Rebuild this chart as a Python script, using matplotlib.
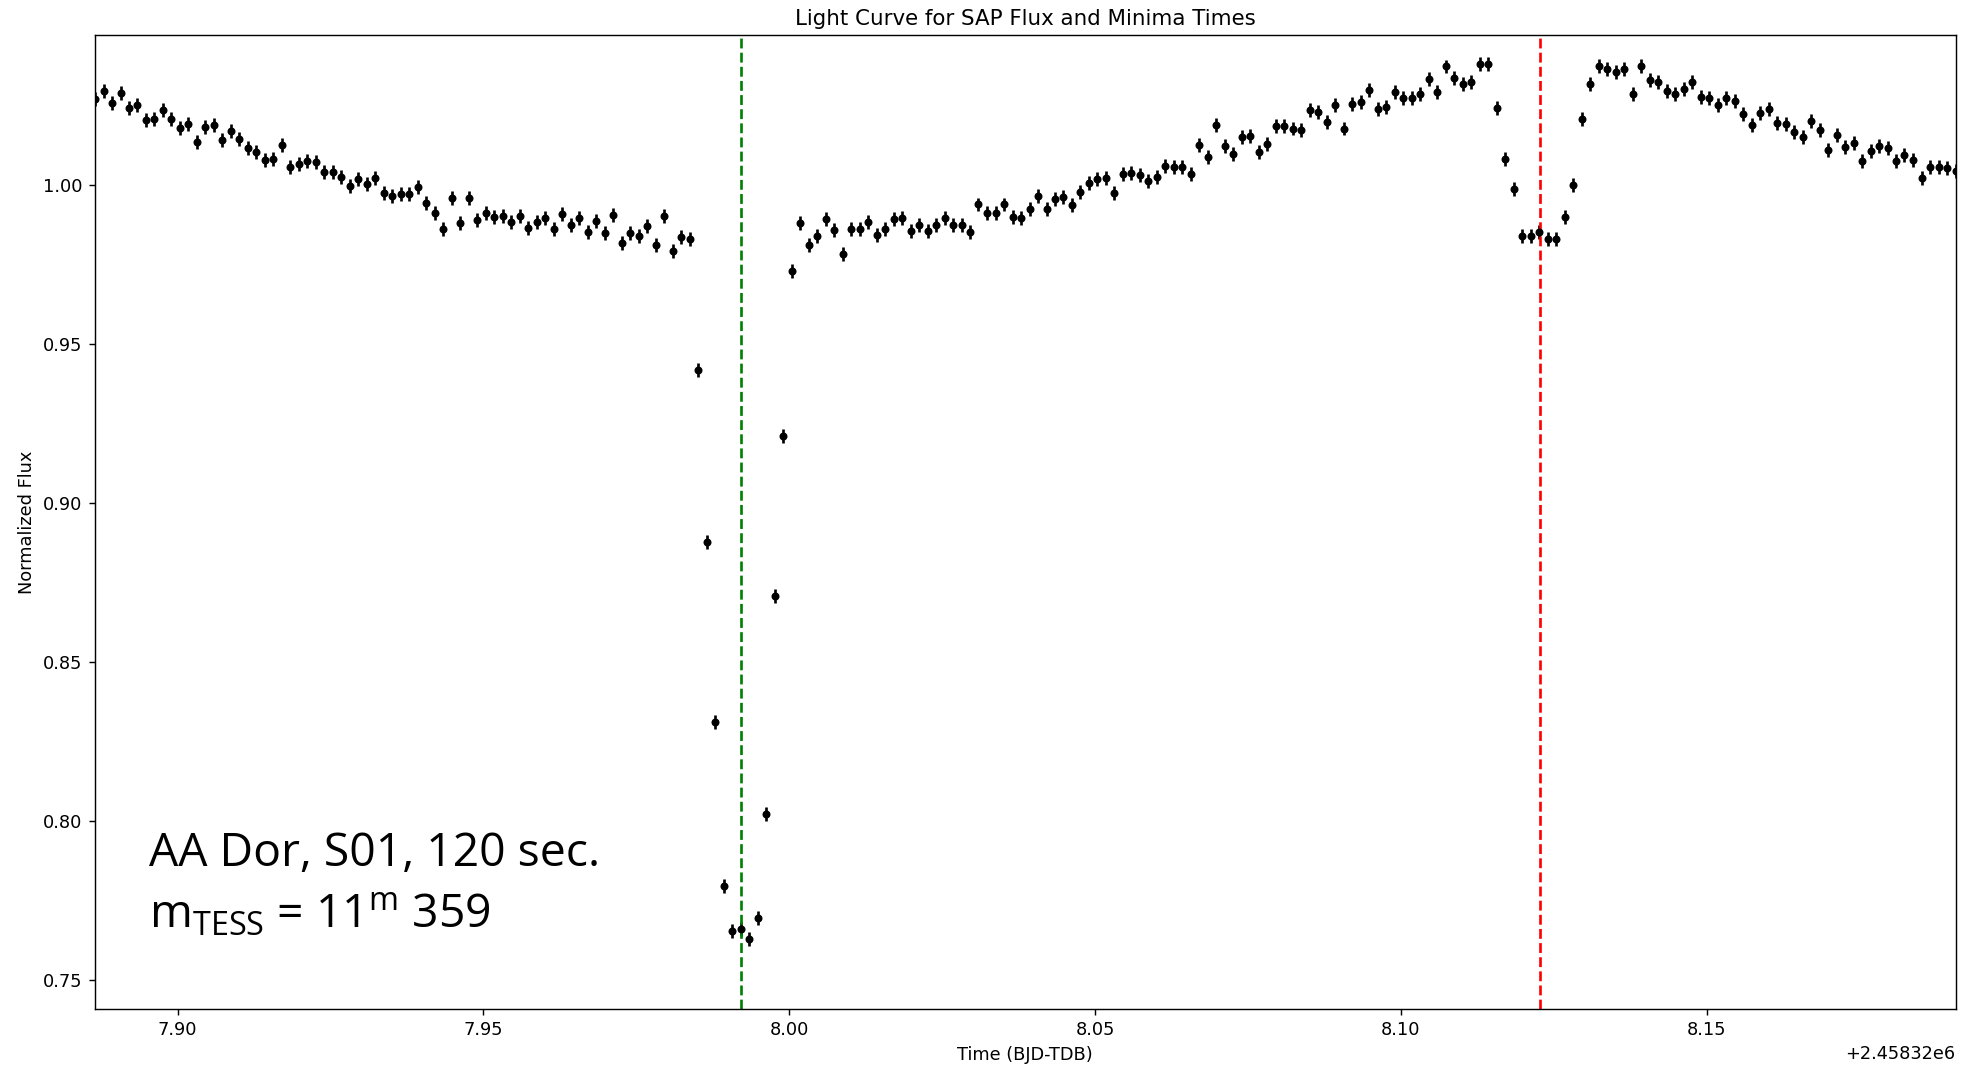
import matplotlib
matplotlib.use("Agg")
import matplotlib.pyplot as plt

# Time stamps (BJD-TDB minus 2458320), 2-minute cadence
BJD_BASE = 2458320.0
time_offset = [
    7.88650, 7.88789, 7.88928, 7.89067, 7.89206, 7.89344, 7.89483, 7.89622, 7.89761, 7.89900,
    7.90039, 7.90178, 7.90317, 7.90456, 7.90594, 7.90733, 7.90872, 7.91011, 7.91150, 7.91289,
    7.91428, 7.91567, 7.91706, 7.91844, 7.91983, 7.92122, 7.92261, 7.92400, 7.92539, 7.92678,
    7.92817, 7.92956, 7.93094, 7.93233, 7.93372, 7.93511,
    7.93650, 7.93789, 7.93928, 7.94067, 7.94206, 7.94344, 7.94483, 7.94622, 7.94761, 7.94900,
    7.95039, 7.95178, 7.95317, 7.95456, 7.95594, 7.95733, 7.95872, 7.96011, 7.96150, 7.96289,
    7.96428, 7.96567, 7.96706, 7.96844, 7.96983, 7.97122, 7.97261, 7.97400, 7.97539, 7.97678,
    7.97817, 7.97956, 7.98094, 7.98233, 7.98372, 7.98511,
    7.98650, 7.98789, 7.98928, 7.99067, 7.99206, 7.99344, 7.99483, 7.99622, 7.99761, 7.99900,
    8.00039, 8.00178, 8.00317, 8.00456, 8.00594, 8.00733, 8.00872, 8.01011, 8.01150, 8.01289,
    8.01428, 8.01567, 8.01706, 8.01844, 8.01983, 8.02122, 8.02261, 8.02400, 8.02539, 8.02678,
    8.02817, 8.02956, 8.03094, 8.03233, 8.03372, 8.03511,
    8.03650, 8.03789, 8.03928, 8.04067, 8.04206, 8.04344, 8.04483, 8.04622, 8.04761, 8.04900,
    8.05039, 8.05178, 8.05317, 8.05456, 8.05594, 8.05733, 8.05872, 8.06011, 8.06150, 8.06289,
    8.06428, 8.06567, 8.06706, 8.06844, 8.06983, 8.07122, 8.07261, 8.07400, 8.07539, 8.07678,
    8.07817, 8.07956, 8.08094, 8.08233, 8.08372, 8.08511,
    8.08650, 8.08789, 8.08928, 8.09067, 8.09206, 8.09344, 8.09483, 8.09622, 8.09761, 8.09900,
    8.10039, 8.10178, 8.10317, 8.10456, 8.10594, 8.10733, 8.10872, 8.11011, 8.11150, 8.11289,
    8.11428, 8.11567, 8.11706, 8.11844, 8.11983, 8.12122, 8.12261, 8.12400, 8.12539, 8.12678,
    8.12817, 8.12956, 8.13094, 8.13233, 8.13372, 8.13511,
    8.13650, 8.13789, 8.13928, 8.14067, 8.14206, 8.14344, 8.14483, 8.14622, 8.14761, 8.14900,
    8.15039, 8.15178, 8.15317, 8.15456, 8.15594, 8.15733, 8.15872, 8.16011, 8.16150, 8.16289,
    8.16428, 8.16567, 8.16706, 8.16844, 8.16983, 8.17122, 8.17261, 8.17400, 8.17539, 8.17678,
    8.17817, 8.17956, 8.18094, 8.18233, 8.18372, 8.18511,
    8.18650, 8.18789, 8.18928, 8.19067,
]

# Normalized SAP flux
flux = [
    1.0269, 1.0295, 1.0256, 1.0290, 1.0243, 1.0250, 1.0204, 1.0206, 1.0234, 1.0206,
    1.0180, 1.0192, 1.0136, 1.0182, 1.0188, 1.0140, 1.0169, 1.0145, 1.0115, 1.0102,
    1.0078, 1.0082, 1.0125, 1.0057, 1.0066, 1.0075, 1.0071, 1.0040, 1.0040, 1.0024,
    0.9996, 1.0019, 1.0001, 1.0022, 0.9975, 0.9964,
    0.9970, 0.9970, 0.9993, 0.9944, 0.9910, 0.9860, 0.9959, 0.9881, 0.9959, 0.9889,
    0.9910, 0.9900, 0.9902, 0.9883, 0.9902, 0.9863, 0.9883, 0.9896, 0.9862, 0.9907,
    0.9872, 0.9894, 0.9851, 0.9886, 0.9849, 0.9904, 0.9818, 0.9849, 0.9839, 0.9870,
    0.9812, 0.9902, 0.9791, 0.9835, 0.9828, 0.9418,
    0.8877, 0.8312, 0.7796, 0.7652, 0.7659, 0.7628, 0.7694, 0.8021, 0.8707, 0.9211,
    0.9728, 0.9881, 0.9812, 0.9839, 0.9891, 0.9857, 0.9783, 0.9860, 0.9860, 0.9884,
    0.9841, 0.9862, 0.9891, 0.9894, 0.9854, 0.9873, 0.9854, 0.9872, 0.9896, 0.9875,
    0.9875, 0.9851, 0.9938, 0.9912, 0.9912, 0.9938,
    0.9898, 0.9896, 0.9923, 0.9964, 0.9925, 0.9954, 0.9963, 0.9935, 0.9977, 1.0007,
    1.0017, 1.0020, 0.9973, 1.0035, 1.0038, 1.0030, 1.0012, 1.0024, 1.0059, 1.0056,
    1.0056, 1.0035, 1.0124, 1.0087, 1.0187, 1.0122, 1.0098, 1.0150, 1.0153, 1.0104,
    1.0127, 1.0185, 1.0185, 1.0177, 1.0172, 1.0234,
    1.0229, 1.0199, 1.0250, 1.0177, 1.0253, 1.0261, 1.0298, 1.0237, 1.0246, 1.0292,
    1.0272, 1.0272, 1.0287, 1.0332, 1.0292, 1.0372, 1.0335, 1.0316, 1.0323, 1.0381,
    1.0381, 1.0243, 1.0080, 0.9986, 0.9840, 0.9840, 0.9851, 0.9830, 0.9830, 0.9900,
    0.9998, 1.0206, 1.0316, 1.0374, 1.0363, 1.0355,
    1.0365, 1.0287, 1.0374, 1.0329, 1.0324, 1.0295, 1.0287, 1.0300, 1.0324, 1.0277,
    1.0272, 1.0250, 1.0274, 1.0263, 1.0224, 1.0188, 1.0227, 1.0237, 1.0193, 1.0190,
    1.0167, 1.0151, 1.0200, 1.0171, 1.0109, 1.0156, 1.0120, 1.0132, 1.0075, 1.0106,
    1.0122, 1.0117, 1.0075, 1.0093, 1.0078, 1.0022,
    1.0056, 1.0056, 1.0054, 1.0043,
]

FLUX_ERR = 0.0022

# Times of the primary and secondary minima (offset from 2458320)
primary_min = 7.99217
secondary_min = 8.12269

time = [BJD_BASE + t for t in time_offset]

DPI = 128
fig = plt.figure(figsize=(1965 / DPI, 1065 / DPI), dpi=DPI)
ax = fig.add_axes([0.04835, 0.05277, 0.99517 - 0.04835, 0.96685 - 0.05277])

ax.errorbar(time, flux, yerr=FLUX_ERR, fmt='o', color='black',
            markersize=3.5, elinewidth=1.5, capsize=0)
ax.axvline(BJD_BASE + primary_min, color='green', linestyle='--', linewidth=1.5)
ax.axvline(BJD_BASE + secondary_min, color='red', linestyle='--', linewidth=1.5)

ax.set_xlim(time[0], time[-1])
ax.set_ylim(0.74085, 1.04701)
ax.set_title('Light Curve for SAP Flux and Minima Times')
ax.set_xlabel('Time (BJD-TDB)')
ax.set_ylabel('Normalized Flux')

fig.text(0.0760, 1 - 866 / 1065, 'AA Dor, S01, 120 sec.',
         fontfamily='Open Sans', fontsize=26, va='baseline', ha='left')
fig.text(0.0760, 1 - 928 / 1065,
         r'm$_{\mathregular{TESS}}$ = 11$^{\mathregular{m}}$ 359',
         fontfamily='Open Sans', fontsize=26, va='baseline', ha='left')

fig.savefig('out.png', dpi=DPI)
